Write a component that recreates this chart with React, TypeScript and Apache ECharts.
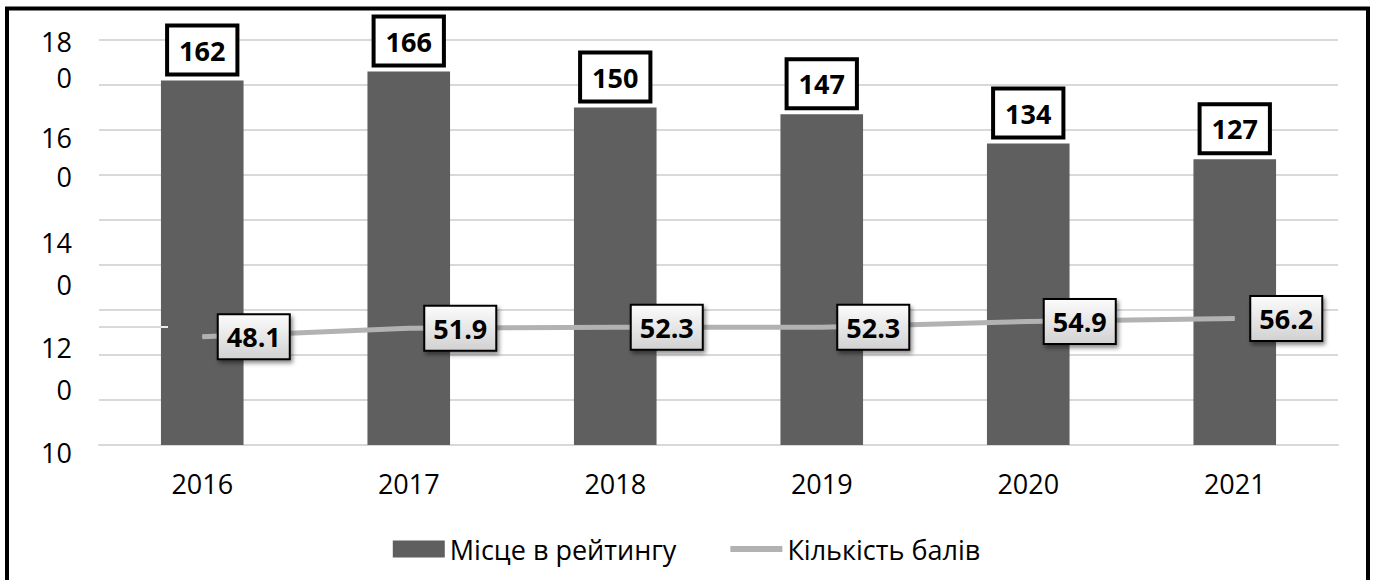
import React, { useEffect, useRef } from "react";
import * as echarts from "echarts";

const years = ["2016", "2017", "2018", "2019", "2020", "2021"];
const rankValues = [162, 166, 150, 147, 134, 127];
const scoreValues = [48.1, 51.9, 52.3, 52.3, 54.9, 56.2];
const seriesNames = ["Місце в рейтингу", "Кількість балів"];
// left-hand tick labels as they appear (wrapped into two lines, last one clipped)
const yTickLabels = ["180", "160", "140", "120", "100"];

// layout for the wrapped left labels
const yLabelFirstLineY = [41, 137.5, 242, 347, 452];
const yLabelSecondLineY: (number | null)[] = [77.5, 176, 284, 389, null];

const FONT = "'Open Sans', 'Noto Sans', sans-serif";

export default function App() {
  const ref = useRef<HTMLDivElement>(null);

  useEffect(() => {
    if (!ref.current) return;
    const chart = echarts.init(ref.current, null, { renderer: "svg" });

    const yLabelGraphics: any[] = [];
    yTickLabels.forEach((t, i) => {
      yLabelGraphics.push({
        type: "text",
        x: 72,
        y: yLabelFirstLineY[i],
        style: {
          text: t.slice(0, 2),
          font: `27px ${FONT}`,
          fill: "#000",
          textAlign: "right",
          textVerticalAlign: "middle",
        },
      });
      const y2 = yLabelSecondLineY[i];
      if (y2 !== null) {
        yLabelGraphics.push({
          type: "text",
          x: 72,
          y: y2,
          style: {
            text: t.slice(2),
            font: `27px ${FONT}`,
            fill: "#000",
            textAlign: "right",
            textVerticalAlign: "middle",
          },
        });
      }
    });

    const option: any = {
      animation: false,
      backgroundColor: "#fff",
      textStyle: { fontFamily: FONT },
      grid: { left: 99, right: 35, top: 40, bottom: 135, containLabel: false },
      legend: {
        left: "center",
        top: 530,
        itemWidth: 52,
        itemHeight: 17,
        itemGap: 54,
        textStyle: { fontSize: 27, color: "#000", fontFamily: FONT, lineHeight: 28 },
        data: [
          { name: seriesNames[0], icon: "rect" },
          { name: seriesNames[1], icon: "path://M0,0 L52,0 L52,6 L0,6 Z" },
        ],
      },
      xAxis: {
        type: "category",
        data: years,
        axisLine: { show: true, lineStyle: { color: "#d9d9d9", width: 2 } },
        axisTick: { show: false },
        axisLabel: { fontSize: 27, color: "#000", margin: 25, lineHeight: 27, fontFamily: FONT },
      },
      yAxis: {
        type: "value",
        min: 0,
        max: 180,
        interval: 20,
        axisLabel: { show: false },
        axisLine: { show: false },
        axisTick: { show: false },
        splitLine: { lineStyle: { color: "#d9d9d9", width: 2 } },
      },
      series: [
        {
          name: seriesNames[0],
          type: "bar",
          data: rankValues,
          barWidth: "40%",
          itemStyle: { color: "#5f5f5f" },
          z: 2,
          label: {
            show: true,
            position: "top",
            distance: 8,
            fontSize: 27,
            fontWeight: "bold",
            fontFamily: FONT,
            color: "#000",
            lineHeight: 29,
            backgroundColor: "#fff",
            borderColor: "#000",
            borderWidth: 4,
            padding: [8, 10],
          },
        },
        {
          name: seriesNames[1],
          type: "line",
          data: scoreValues,
          symbol: "circle",
          symbolSize: 1,
          showSymbol: true,
          itemStyle: { color: "#b2b2b2" },
          lineStyle: { color: "#b2b2b2", width: 5 },
          z: 5,
          label: {
            show: true,
            position: "right",
            distance: 16,
            fontSize: 27,
            fontWeight: "bold",
            fontFamily: FONT,
            color: "#000",
            lineHeight: 29,
            backgroundColor: new echarts.graphic.LinearGradient(0, 0, 0, 1, [
              { offset: 0, color: "#fbfbfb" },
              { offset: 1, color: "#d2d2d2" },
            ]),
            borderColor: "#000",
            borderWidth: 2,
            padding: [7, 8],
            shadowColor: "rgba(0,0,0,0.45)",
            shadowBlur: 4,
            shadowOffsetX: 2,
            shadowOffsetY: 3,
          },
        },
      ],
      graphic: [
        {
          type: "rect",
          shape: { x: 7, y: 8.5, width: 1361, height: 700 },
          style: { fill: "none", stroke: "#000", lineWidth: 4 },
          silent: true,
          z: 100,
        },
        {
          type: "line",
          shape: { x1: 99, y1: 327, x2: 161, y2: 327 },
          style: { stroke: "#d9d9d9", lineWidth: 2 },
          z: 100,
        },
        {
          type: "line",
          shape: { x1: 161, y1: 327, x2: 168, y2: 327 },
          style: { stroke: "#ececec", lineWidth: 2 },
          z: 100,
        },
        ...yLabelGraphics,
      ],
    };

    chart.setOption(option);
    return () => chart.dispose();
  }, []);

  return (
    <div
      ref={ref}
      style={{ position: "fixed", left: 0, top: 0, width: 1373, height: 580, background: "#fff" }}
    />
  );
}
